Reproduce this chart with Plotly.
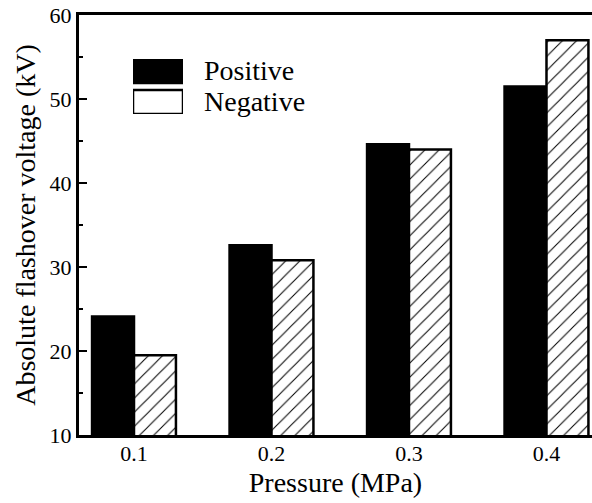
import plotly.graph_objects as go

pressure = [0.1, 0.2, 0.3, 0.4]
tick_labels = ["0.1", "0.2", "0.3", "0.4"]
positive = [24.1, 32.6, 44.6, 51.5]
negative = [19.5, 30.8, 44.0, 57.0]
series_names = ["Positive", "Negative"]

FONT = "'Liberation Serif', 'DejaVu Serif', serif"
W, H = 592, 503
L, R, T, B = 79, 0, 15, 68
pw, ph = W - L - R, H - T - B

def px_x(p):
    return (p - L) / pw

def px_y(p):
    return (H - B - p) / ph

hatch = dict(shape="/", size=10, solidity=0.1,
             fgcolor="black", bgcolor="white", fillmode="replace")

fig = go.Figure()
fig.add_trace(go.Bar(
    x=pressure, y=positive, name=series_names[0],
    marker=dict(color="black", line=dict(color="black", width=2.5)),
    showlegend=False,
))
fig.add_trace(go.Bar(
    x=pressure, y=negative, name=series_names[1],
    marker=dict(color="white", line=dict(color="black", width=2.5), pattern=hatch),
    showlegend=False,
))

# legend swatches drawn as bars on a small hidden axis
fig.add_trace(go.Bar(
    x=[1, 1], y=[0, 1], width=[0.78, 0.78], orientation="h", xaxis="x2", yaxis="y2",
    marker=dict(color=["white", "black"], line=dict(color="black", width=2.5),
                pattern=dict(hatch, shape=["/", ""])),
    showlegend=False, hoverinfo="skip",
))

fig.update_layout(
    width=W, height=H,
    margin=dict(l=L, r=R, t=T, b=B),
    paper_bgcolor="white", plot_bgcolor="white",
    barmode="group", bargap=0.39, bargroupgap=0,
    font=dict(family=FONT, color="black"),
    xaxis=dict(
        range=[0.06, 0.4331], tickvals=pressure, ticktext=tick_labels,
        ticks="", showgrid=False, zeroline=False,
        showline=True, linewidth=3, linecolor="black", mirror=True,
        tickfont=dict(size=22, family=FONT),
        ticklabelstandoff=-3,
        title=dict(text="Pressure (MPa)", font=dict(size=28, family=FONT), standoff=7),
    ),
    yaxis=dict(
        range=[10, 60], dtick=10, tick0=10,
        ticks="inside", ticklen=8, tickwidth=2, tickcolor="black",
        minor=dict(dtick=5, ticks="inside", ticklen=4, tickwidth=2, tickcolor="black"),
        showgrid=False, zeroline=False,
        showline=True, linewidth=3, linecolor="black", mirror=False,
        tickfont=dict(size=22, family=FONT),
        title=dict(text="Absolute flashover voltage (kV)", font=dict(size=28, family=FONT), standoff=6),
    ),
    xaxis2=dict(domain=[px_x(133), px_x(183)], range=[0, 1], visible=False, anchor="y2", fixedrange=True),
    yaxis2=dict(domain=[px_y(114), px_y(59)], range=[-0.39, 1.39], visible=False, anchor="x2", fixedrange=True),
    annotations=[
        dict(text=series_names[0], xref="paper", yref="paper", x=px_x(202), y=px_y(71),
             xanchor="left", yanchor="middle", showarrow=False, font=dict(size=28, family=FONT)),
        dict(text=series_names[1], xref="paper", yref="paper", x=px_x(202), y=px_y(101),
             xanchor="left", yanchor="middle", showarrow=False, font=dict(size=28, family=FONT)),
    ],
)

fig.write_html("out.html")
